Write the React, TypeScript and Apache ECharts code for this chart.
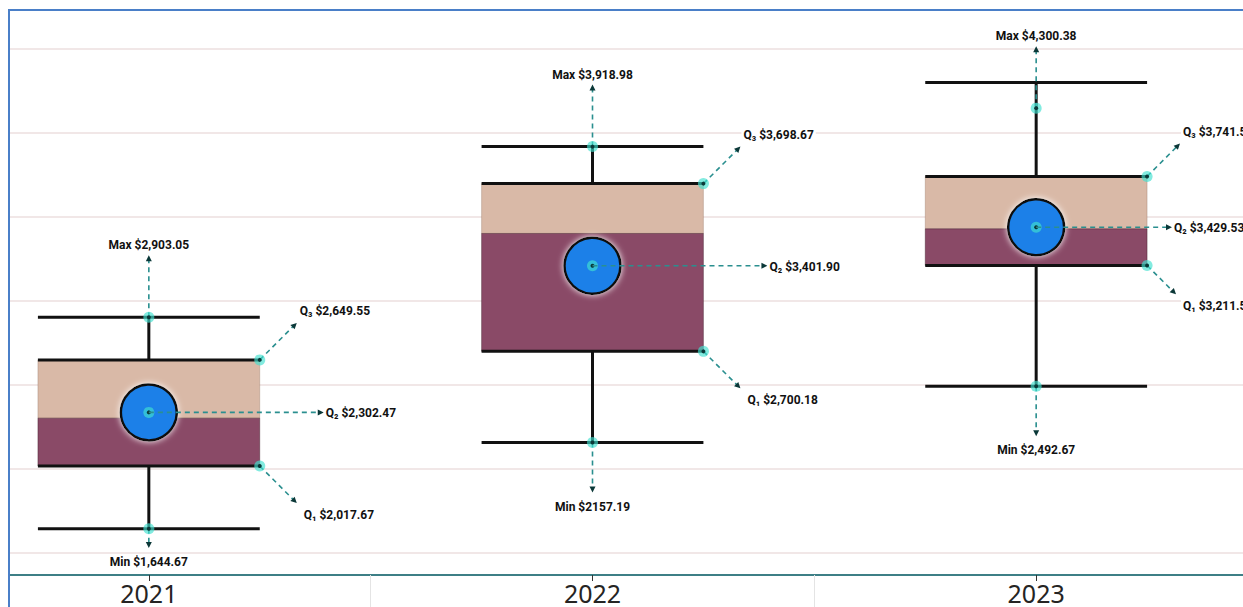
import React, { useEffect, useRef } from "react";
import * as echarts from "echarts";

const years = ["2021", "2022", "2023"];
const minValues = [1644.67, 2157.19, 2492.67];
const q1Values = [2017.67, 2700.18, 3211.58];
const medianValues = [2302.47, 3401.9, 3429.53];
const q3Values = [2649.55, 3698.67, 3741.52];
const maxValues = [2903.05, 3918.98, 4300.38];
const meanValues = [2337, 3210, 3439];
const maxMarkerValues = [2903.05, 3918.98, 4148];
const minLabelGrouping = [true, false, true];
const yAxisMin = 1000;
const yAxisMax = 5000;
const yAxisStep = 500;

const fmt = (v: number, grouping = true) =>
  "$" +
  v.toLocaleString("en-US", {
    minimumFractionDigits: 2,
    maximumFractionDigits: 2,
    useGrouping: grouping,
  });

const TEAL = "#2a8f8f";
const DARK = "#0b3838";
const LABEL_FONT = "bold 12px Roboto";

function arrowHead(tx: number, ty: number, fx: number, fy: number) {
  const dx = tx - fx;
  const dy = ty - fy;
  const len = Math.sqrt(dx * dx + dy * dy) || 1;
  const ux = dx / len;
  const uy = dy / len;
  const bx = tx - ux * 6;
  const by = ty - uy * 6;
  const px = -uy * 3;
  const py = ux * 3;
  return {
    type: "polygon",
    shape: { points: [[tx, ty], [bx + px, by + py], [bx - px, by - py]] },
    style: { fill: DARK },
  };
}

function dashed(x1: number, y1: number, x2: number, y2: number) {
  const dx = x2 - x1;
  const dy = y2 - y1;
  const len = Math.sqrt(dx * dx + dy * dy) || 1;
  const ex = x2 - (dx / len) * 5;
  const ey = y2 - (dy / len) * 5;
  return [
    {
      type: "line",
      shape: { x1, y1, x2: ex, y2: ey },
      style: { stroke: TEAL, lineWidth: 1.6, lineDash: [5, 4] },
    },
    arrowHead(x2, y2, x1, y1),
  ];
}

function anchorDot(x: number, y: number) {
  return [
    { type: "circle", shape: { cx: x, cy: y, r: 5.5 }, style: { fill: "rgba(64,224,208,0.65)" } },
    { type: "circle", shape: { cx: x, cy: y, r: 2 }, style: { fill: DARK } },
  ];
}

function label(text: string, x: number, y: number, align: string) {
  return {
    type: "text",
    style: {
      text,
      x,
      y,
      fill: "#111",
      font: LABEL_FONT,
      align,
      verticalAlign: "middle",
      textAlign: align,
      textVerticalAlign: "middle",
      backgroundColor: "#fff",
      padding: [1, 2],
    },
  };
}

function renderItem(params: any, api: any) {
  const idx = api.value(0);
  const i = params.dataIndex;
  const c = (v: number) => api.coord([idx, v]);
  const [cx, yMin] = c(api.value(1));
  const yQ1 = c(api.value(2))[1];
  const yMed = c(api.value(3))[1];
  const yQ3 = c(api.value(4))[1];
  const yMax = c(api.value(5))[1];
  const yMean = c(api.value(6))[1];
  const yMaxMark = c(api.value(7))[1];
  const bw = api.size([1, 0])[0] * 0.5;
  const L = cx - bw / 2;
  const R = cx + bw / 2;
  const W = api.getWidth();
  const black = { stroke: "#111", lineWidth: 3 };

  const children: any[] = [
    {
      type: "rect",
      shape: { x: L, y: yQ3, width: bw, height: yMed - yQ3 },
      style: { fill: "#d9b9a7", stroke: "rgba(120,80,60,0.25)", lineWidth: 1 },
    },
    {
      type: "rect",
      shape: { x: L, y: yMed, width: bw, height: yQ1 - yMed },
      style: { fill: "#8a4a67", stroke: "rgba(40,10,20,0.35)", lineWidth: 1 },
    },
    { type: "line", shape: { x1: cx, y1: yMax, x2: cx, y2: yQ3 }, style: black },
    { type: "line", shape: { x1: cx, y1: yQ1, x2: cx, y2: yMin }, style: black },
    { type: "line", shape: { x1: L, y1: yMax, x2: R, y2: yMax }, style: black },
    { type: "line", shape: { x1: L, y1: yMin, x2: R, y2: yMin }, style: black },
    { type: "line", shape: { x1: L, y1: yQ3, x2: R, y2: yQ3 }, style: black },
    { type: "line", shape: { x1: L, y1: yQ1, x2: R, y2: yQ1 }, style: black },
    {
      type: "circle",
      shape: { cx, cy: yMean, r: 28 },
      style: {
        fill: "#1a80e8",
        stroke: "#111",
        lineWidth: 2.5,
        shadowBlur: 6,
        shadowColor: "rgba(255,255,255,0.95)",
      },
    },
  ];

  // Max annotation
  const maxTipY = yMaxMark - 62;
  children.push(...dashed(cx, yMaxMark, cx, maxTipY));
  children.push(...anchorDot(cx, yMaxMark));
  children.push(label("Max " + fmt(api.value(5)), cx, maxTipY - 10, "center"));

  // Min annotation
  const minTipY = Math.min(yMin + 50, 548);
  children.push(...dashed(cx, yMin, cx, minTipY));
  children.push(...anchorDot(cx, yMin));
  children.push(label("Min " + fmt(api.value(1), minLabelGrouping[i]), cx, minTipY + 14, "center"));

  // Q3 annotation
  const q3Left = Math.min(R + 40, W - 60);
  const q3TipX = q3Left - 3;
  const q3TipY = yQ3 - (q3TipX - R);
  children.push(...dashed(R, yQ3, q3TipX, q3TipY));
  children.push(...anchorDot(R, yQ3));
  children.push(label("Q\u2083 " + fmt(api.value(4)), q3Left - 2, q3TipY - 12, "left"));

  // Q1 annotation
  const q1Left = Math.min(R + 44, W - 60);
  const q1TipX = q1Left - 7;
  const q1TipY = yQ1 + (q1TipX - R);
  children.push(...dashed(R, yQ1, q1TipX, q1TipY));
  children.push(...anchorDot(R, yQ1));
  children.push(label("Q\u2081 " + fmt(api.value(2)), q1Left - 2, q1TipY + 12, "left"));

  // Q2 annotation (from the mean marker)
  const q2TipX = Math.min(R + 64, W - 71);
  children.push(...anchorDot(cx, yMean));
  children.push(...dashed(cx, yMean, q2TipX, yMean));
  children.push(label("Q\u2082 " + fmt(api.value(3)), q2TipX, yMean + 1, "left"));

  return { type: "group", children };
}

export default function App() {
  const ref = useRef<HTMLDivElement>(null);
  useEffect(() => {
    if (!ref.current) return;
    const chart = echarts.init(ref.current, undefined, { renderer: "svg" });
    const gridBase = { left: -73, width: 1331, outerBoundsMode: "none", containLabel: false };
    chart.setOption({
      animation: false,
      backgroundColor: "#ffffff",
      grid: [
        { ...gridBase, top: -35, height: 672 },
        { ...gridBase, top: 10, height: 565 },
        { ...gridBase, top: 10, height: 565 },
      ],
      xAxis: [
        { type: "category", data: years, gridIndex: 0, show: false },
        {
          type: "category",
          data: years,
          gridIndex: 1,
          axisLine: { lineStyle: { color: "#3d7f86", width: 2 } },
          axisTick: { show: true, length: 34, lineStyle: { color: "#e4e4e4", width: 1 } },
          axisLabel: {
            show: true,
            fontSize: 25,
            color: "#252423",
            fontFamily: "Noto Sans",
            margin: 5,
          },
          splitLine: { show: false },
        },
        {
          type: "category",
          data: years,
          gridIndex: 2,
          axisLine: { show: false },
          axisTick: { show: true, alignWithLabel: true, length: 6, lineStyle: { color: "#333", width: 1 } },
          axisLabel: { show: false },
          splitLine: { show: false },
        },
      ],
      yAxis: [
        {
          type: "value",
          gridIndex: 0,
          min: yAxisMin,
          max: yAxisMax,
          interval: yAxisStep,
          axisLabel: { show: false },
          axisLine: { show: false },
          axisTick: { show: false },
          splitLine: { show: true, lineStyle: { color: "#ecdfdf", width: 1.5 } },
        },
        { type: "value", gridIndex: 1, show: false, splitLine: { show: false } },
        { type: "value", gridIndex: 2, show: false, splitLine: { show: false } },
      ],
      series: [
        {
          type: "custom",
          xAxisIndex: 0,
          yAxisIndex: 0,
          z: 5,
          renderItem,
          encode: { x: 0, y: [1, 2, 3, 4, 5, 6, 7] },
          data: years.map((_, i) => [
            i,
            minValues[i],
            q1Values[i],
            medianValues[i],
            q3Values[i],
            maxValues[i],
            meanValues[i],
            maxMarkerValues[i],
          ]),
        },
      ],
      graphic: [
        { type: "rect", z: 100, shape: { x: 0, y: 0, width: 8, height: 607 }, style: { fill: "#fff" } },
        { type: "line", z: 101, shape: { x1: 9, y1: 10, x2: 9, y2: 607 }, style: { stroke: "#4a7fc8", lineWidth: 2 } },
        { type: "line", z: 101, shape: { x1: 8, y1: 10, x2: 1243, y2: 10 }, style: { stroke: "#4a7fc8", lineWidth: 2 } },
      ],
    });
    return () => chart.dispose();
  }, []);
  return (
    <div
      ref={ref}
      style={{ position: "fixed", left: 0, top: 0, width: 1243, height: 607 }}
    />
  );
}
